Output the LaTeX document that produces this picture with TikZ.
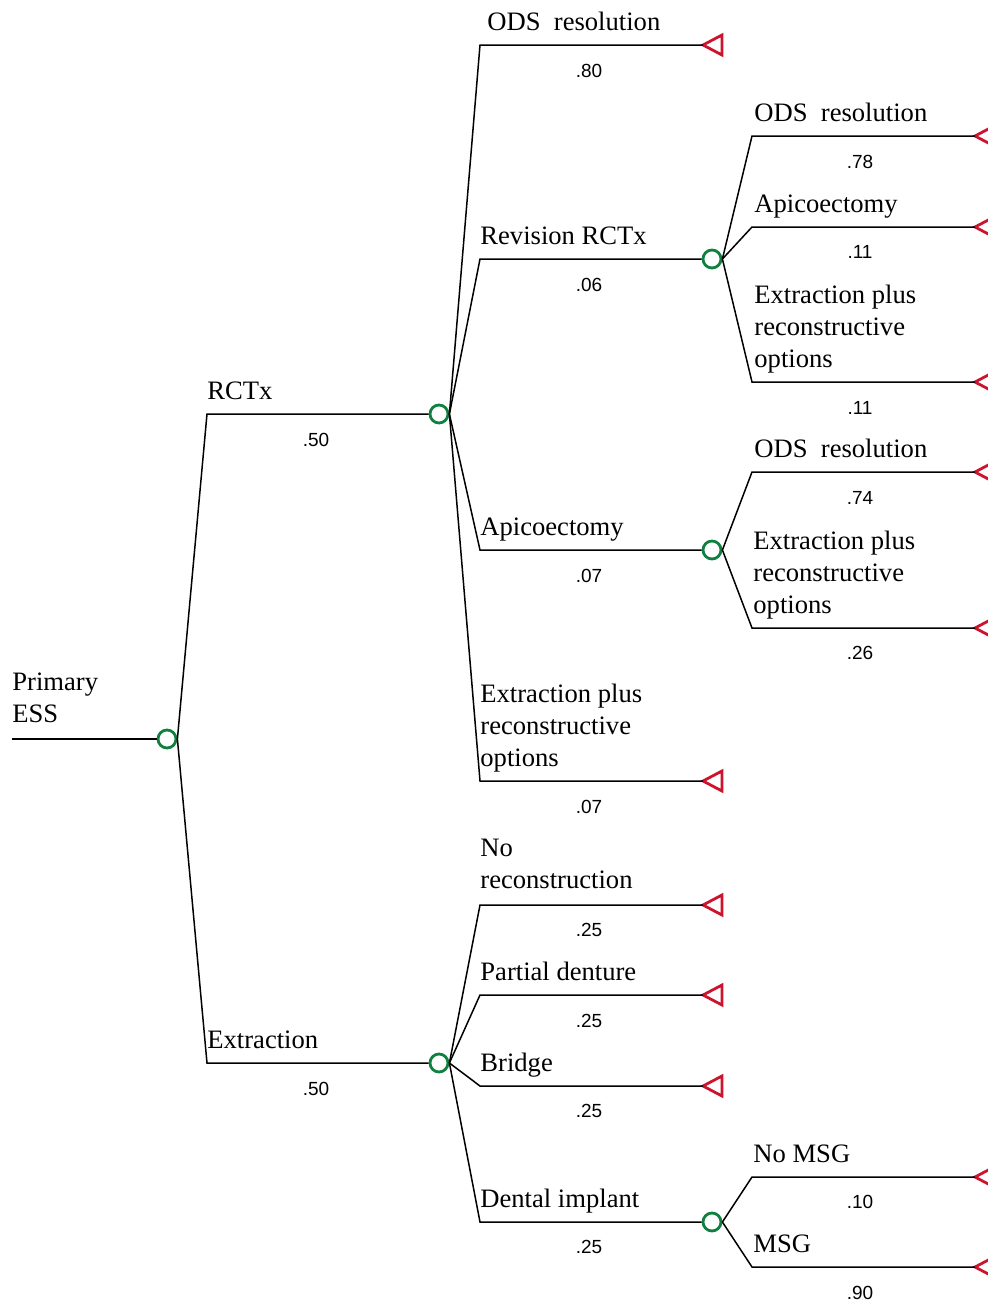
\documentclass[tikz,border=0pt]{standalone}
\usepackage{fontspec}
\setmainfont{Liberation Serif}
\newfontfamily\probfont{Liberation Sans}
\usetikzlibrary{shapes.geometric}
\definecolor{chancegreen}{RGB}{16,128,64}
\definecolor{termred}{RGB}{204,20,44}

\begin{document}
\begin{tikzpicture}[x=0.5pt, y=-0.5pt,
    branch/.style={line width=0.75pt},
    chance/.style={circle, draw=chancegreen, line width=1.4pt, minimum size=9pt, inner sep=0pt},
    term/.style={isosceles triangle, draw=termred, line width=1.4pt, shape border rotate=180,
        isosceles triangle stretches, minimum width=10pt, minimum height=9.5pt, inner sep=0pt,
        outer sep=0pt, anchor=apex},
    lbl/.style={font=\fontsize{13.3}{16}\selectfont, align=left, anchor=base west, inner sep=0pt},
    prob/.style={font=\probfont\fontsize{9.5}{11}\selectfont, anchor=base, inner sep=0pt}]
    \useasboundingbox (0,0) rectangle (988,1301);
    \clip (0,0) rectangle (988,1301);

    % Root decision
    \coordinate (root) at (12,739);
    \node[chance] (c0) at (167,739) {};
    \node[lbl] (l-root) at (12,722) {Primary\\ESS};
    \draw[branch] (root) -- (c0);

    % RCTx
    \coordinate (k-rctx) at (207,414);
    \node[chance] (c1) at (439,414) {};
    \draw[branch] (c0.east) -- (k-rctx) -- (c1);
    \node[lbl] at (207,399) {RCTx};
    \node[prob] at (316,446) {.50};

    % Extraction
    \coordinate (k-ext) at (207,1063);
    \node[chance] (c4) at (439,1063) {};
    \draw[branch] (c0.east) -- (k-ext) -- (c4);
    \node[lbl] at (207,1048) {Extraction};
    \node[prob] at (316,1095) {.50};

    % RCTx outcomes
    \coordinate (k-ods1) at (480,45);
    \node[term] (t-ods1) at (703,45) {};
    \draw[branch] (c1.east) -- (k-ods1) -- (t-ods1.apex);
    \node[lbl] at (487,30) {ODS\ \ resolution};
    \node[prob] at (589,77) {.80};

    \coordinate (k-rev) at (480,259);
    \node[chance] (c2) at (712,259) {};
    \draw[branch] (c1.east) -- (k-rev) -- (c2);
    \node[lbl] at (480,244) {Revision RCTx};
    \node[prob] at (589,291) {.06};

    \coordinate (k-api1) at (480,550);
    \node[chance] (c3) at (712,550) {};
    \draw[branch] (c1.east) -- (k-api1) -- (c3);
    \node[lbl] at (480,535) {Apicoectomy};
    \node[prob] at (589,582) {.07};

    \coordinate (k-epr1) at (480,781);
    \node[term] (t-epr1) at (703,781) {};
    \draw[branch] (c1.east) -- (k-epr1) -- (t-epr1.apex);
    \node[lbl] at (480,766) {Extraction plus\\reconstructive\\options};
    \node[prob] at (589,813) {.07};

    % Revision RCTx outcomes
    \coordinate (k-ods2) at (752,136);
    \node[term] (t-ods2) at (975,136) {};
    \draw[branch] (c2.east) -- (k-ods2) -- (t-ods2.apex);
    \node[lbl] at (754,121) {ODS\ \ resolution};
    \node[prob] at (860,168) {.78};

    \coordinate (k-api2) at (752,227);
    \node[term] (t-api2) at (975,227) {};
    \draw[branch] (c2.east) -- (k-api2) -- (t-api2.apex);
    \node[lbl] at (754,212) {Apicoectomy};
    \node[prob] at (860,258) {.11};

    \coordinate (k-epr2) at (752,382);
    \node[term] (t-epr2) at (975,382) {};
    \draw[branch] (c2.east) -- (k-epr2) -- (t-epr2.apex);
    \node[lbl] at (754,367) {Extraction plus\\reconstructive\\options};
    \node[prob] at (860,414) {.11};

    % Apicoectomy outcomes
    \coordinate (k-ods3) at (752,472);
    \node[term] (t-ods3) at (975,472) {};
    \draw[branch] (c3.east) -- (k-ods3) -- (t-ods3.apex);
    \node[lbl] at (754,457) {ODS\ \ resolution};
    \node[prob] at (860,504) {.74};

    \coordinate (k-epr3) at (752,628);
    \node[term] (t-epr3) at (975,628) {};
    \draw[branch] (c3.east) -- (k-epr3) -- (t-epr3.apex);
    \node[lbl] at (753,613) {Extraction plus\\reconstructive\\options};
    \node[prob] at (860,659) {.26};

    % Extraction outcomes
    \coordinate (k-norec) at (480,905);
    \node[term] (t-norec) at (703,905) {};
    \draw[branch] (c4.east) -- (k-norec) -- (t-norec.apex);
    \node[lbl] at (480,888) {No\\reconstruction};
    \node[prob] at (589,936) {.25};

    \coordinate (k-part) at (480,995);
    \node[term] (t-part) at (703,995) {};
    \draw[branch] (c4.east) -- (k-part) -- (t-part.apex);
    \node[lbl] at (480,980) {Partial denture};
    \node[prob] at (589,1027) {.25};

    \coordinate (k-bridge) at (480,1086);
    \node[term] (t-bridge) at (703,1086) {};
    \draw[branch] (c4.east) -- (k-bridge) -- (t-bridge.apex);
    \node[lbl] at (480,1071) {Bridge};
    \node[prob] at (589,1117) {.25};

    \coordinate (k-impl) at (480,1222);
    \node[chance] (c5) at (712,1222) {};
    \draw[branch] (c4.east) -- (k-impl) -- (c5);
    \node[lbl] at (480,1207) {Dental implant};
    \node[prob] at (589,1253) {.25};

    % Dental implant outcomes
    \coordinate (k-nomsg) at (752,1177);
    \node[term] (t-nomsg) at (975,1177) {};
    \draw[branch] (c5.east) -- (k-nomsg) -- (t-nomsg.apex);
    \node[lbl] at (753,1162) {No MSG};
    \node[prob] at (860,1208) {.10};

    \coordinate (k-msg) at (752,1267);
    \node[term] (t-msg) at (975,1267) {};
    \draw[branch] (c5.east) -- (k-msg) -- (t-msg.apex);
    \node[lbl] at (753,1252) {MSG};
    \node[prob] at (860,1299) {.90};
\end{tikzpicture}
\end{document}
